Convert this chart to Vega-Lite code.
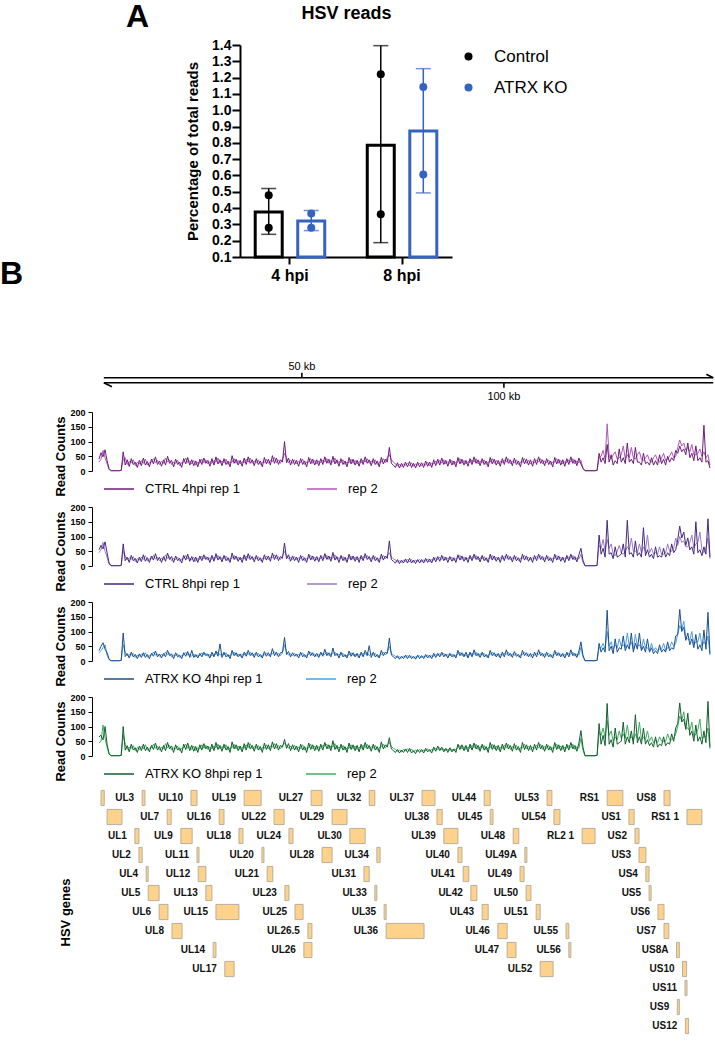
{
"$schema":"https://vega.github.io/schema/vega-lite/v6.json",
"padding":0,
"background":"white",
"config":{"font":"Liberation Sans","view":{"stroke":null},"axis":{"grid":false,"labelOverlap":false,"domainColor":"black","tickColor":"black","labelColor":"black","titleColor":"black","labelFont":"Liberation Sans","titleFont":"Liberation Sans"},"legend":{"labelFont":"Liberation Sans","labelColor":"black"},"title":{"font":"Liberation Sans","color":"black"}},
"datasets":{
"tracks":[
{"kb":0,"a":40,"b":30,"c":55,"d":45,"e":35,"f":28,"g":65,"h":45},
{"kb":0.5,"a":62,"b":40,"c":70,"d":55,"e":50,"f":35,"g":70,"h":50},
{"kb":1,"a":48,"b":70,"c":58,"d":80,"e":62,"f":45,"g":55,"h":105},
{"kb":1.5,"a":72,"b":45,"c":82,"d":50,"e":40,"f":55,"g":100,"h":60},
{"kb":2,"a":35,"b":25,"c":45,"d":30,"e":28,"f":20,"g":40,"h":30},
{"kb":2.5,"a":8,"b":5,"c":10,"d":6,"e":6,"f":5,"g":8,"h":6},
{"kb":3,"a":1,"b":1,"c":1,"d":1,"e":1,"f":1,"g":1,"h":1},
{"kb":3.5,"a":1,"b":1,"c":1,"d":1,"e":1,"f":1,"g":1,"h":1},
{"kb":4,"a":1,"b":1,"c":1,"d":1,"e":1,"f":1,"g":1,"h":1},
{"kb":4.5,"a":1,"b":1,"c":1,"d":1,"e":1,"f":1,"g":1,"h":1},
{"kb":5,"a":1,"b":1,"c":1,"d":1,"e":1,"f":1,"g":1,"h":1},
{"kb":5.5,"a":2,"b":2,"c":2,"d":2,"e":2,"f":2,"g":2,"h":2},
{"kb":6,"a":65,"b":40,"c":75,"d":50,"e":95,"f":55,"g":100,"h":70},
{"kb":6.5,"a":20,"b":45,"c":18,"d":35,"e":15,"f":30,"g":20,"h":40},
{"kb":7,"a":38,"b":22,"c":30,"d":20,"e":25,"f":18,"g":35,"h":22},
{"kb":7.5,"a":15,"b":32,"c":12,"d":28,"e":10,"f":22,"g":14,"h":30},
{"kb":8,"a":42,"b":28,"c":36,"d":22,"e":30,"f":20,"g":40,"h":26},
{"kb":8.5,"a":22,"b":38,"c":18,"d":32,"e":14,"f":26,"g":20,"h":35},
{"kb":9,"a":30,"b":18,"c":26,"d":15,"e":22,"f":12,"g":28,"h":18},
{"kb":9.5,"a":12,"b":30,"c":10,"d":25,"e":8,"f":20,"g":12,"h":28},
{"kb":10,"a":36,"b":24,"c":30,"d":20,"e":24,"f":16,"g":34,"h":22},
{"kb":10.5,"a":18,"b":35,"c":15,"d":30,"e":12,"f":24,"g":18,"h":32},
{"kb":11,"a":44,"b":26,"c":38,"d":22,"e":28,"f":18,"g":40,"h":24},
{"kb":11.5,"a":20,"b":40,"c":16,"d":35,"e":12,"f":28,"g":18,"h":38},
{"kb":12,"a":32,"b":20,"c":28,"d":18,"e":22,"f":14,"g":30,"h":20},
{"kb":12.5,"a":14,"b":28,"c":12,"d":24,"e":8,"f":18,"g":14,"h":26},
{"kb":13,"a":40,"b":30,"c":34,"d":24,"e":26,"f":20,"g":36,"h":28},
{"kb":13.5,"a":24,"b":42,"c":20,"d":36,"e":16,"f":30,"g":22,"h":40},
{"kb":14,"a":48,"b":28,"c":42,"d":24,"e":34,"f":20,"g":44,"h":26},
{"kb":14.5,"a":22,"b":36,"c":18,"d":30,"e":14,"f":24,"g":20,"h":34},
{"kb":15,"a":34,"b":22,"c":30,"d":18,"e":24,"f":16,"g":32,"h":20},
{"kb":15.5,"a":16,"b":32,"c":12,"d":26,"e":10,"f":22,"g":14,"h":30},
{"kb":16,"a":38,"b":26,"c":32,"d":22,"e":26,"f":18,"g":36,"h":24},
{"kb":16.5,"a":20,"b":44,"c":16,"d":38,"e":14,"f":30,"g":18,"h":42},
{"kb":17,"a":50,"b":30,"c":44,"d":26,"e":36,"f":22,"g":46,"h":28},
{"kb":17.5,"a":26,"b":38,"c":22,"d":32,"e":18,"f":26,"g":24,"h":36},
{"kb":18,"a":36,"b":22,"c":32,"d":18,"e":24,"f":14,"g":34,"h":20},
{"kb":18.5,"a":14,"b":30,"c":12,"d":26,"e":8,"f":20,"g":12,"h":28},
{"kb":19,"a":40,"b":26,"c":34,"d":22,"e":28,"f":18,"g":38,"h":24},
{"kb":19.5,"a":22,"b":36,"c":18,"d":30,"e":14,"f":24,"g":20,"h":34},
{"kb":20,"a":30,"b":18,"c":26,"d":16,"e":20,"f":12,"g":28,"h":18},
{"kb":20.5,"a":12,"b":28,"c":10,"d":24,"e":8,"f":18,"g":10,"h":26},
{"kb":21,"a":42,"b":30,"c":36,"d":24,"e":28,"f":20,"g":40,"h":28},
{"kb":21.5,"a":24,"b":44,"c":20,"d":36,"e":16,"f":30,"g":22,"h":40},
{"kb":22,"a":46,"b":28,"c":40,"d":24,"e":32,"f":20,"g":44,"h":26},
{"kb":22.5,"a":20,"b":34,"c":16,"d":28,"e":12,"f":22,"g":18,"h":32},
{"kb":23,"a":38,"b":24,"c":32,"d":20,"e":36,"f":16,"g":36,"h":22},
{"kb":23.5,"a":18,"b":36,"c":14,"d":30,"e":12,"f":24,"g":16,"h":34},
{"kb":24,"a":34,"b":20,"c":30,"d":16,"e":22,"f":14,"g":32,"h":18},
{"kb":24.5,"a":14,"b":30,"c":12,"d":26,"e":10,"f":20,"g":12,"h":28},
{"kb":25,"a":40,"b":26,"c":34,"d":22,"e":26,"f":18,"g":38,"h":24},
{"kb":25.5,"a":22,"b":40,"c":18,"d":34,"e":14,"f":28,"g":20,"h":38},
{"kb":26,"a":44,"b":28,"c":38,"d":24,"e":30,"f":20,"g":42,"h":26},
{"kb":26.5,"a":26,"b":38,"c":22,"d":32,"e":18,"f":26,"g":24,"h":36},
{"kb":27,"a":36,"b":24,"c":30,"d":20,"e":24,"f":16,"g":34,"h":22},
{"kb":27.5,"a":16,"b":32,"c":12,"d":28,"e":10,"f":22,"g":14,"h":30},
{"kb":28,"a":42,"b":26,"c":36,"d":22,"e":30,"f":18,"g":40,"h":24},
{"kb":28.5,"a":20,"b":36,"c":16,"d":30,"e":14,"f":24,"g":18,"h":34},
{"kb":29,"a":48,"b":30,"c":42,"d":26,"e":34,"f":22,"g":46,"h":28},
{"kb":29.5,"a":24,"b":44,"c":20,"d":36,"e":16,"f":30,"g":22,"h":40},
{"kb":30,"a":38,"b":26,"c":32,"d":22,"e":58,"f":20,"g":36,"h":24},
{"kb":30.5,"a":18,"b":34,"c":14,"d":28,"e":12,"f":24,"g":16,"h":32},
{"kb":31,"a":42,"b":28,"c":36,"d":24,"e":30,"f":20,"g":40,"h":26},
{"kb":31.5,"a":22,"b":40,"c":18,"d":34,"e":14,"f":28,"g":20,"h":38},
{"kb":32,"a":34,"b":22,"c":28,"d":18,"e":22,"f":14,"g":32,"h":20},
{"kb":32.5,"a":14,"b":30,"c":12,"d":26,"e":8,"f":20,"g":12,"h":28},
{"kb":33,"a":52,"b":30,"c":44,"d":26,"e":36,"f":22,"g":48,"h":28},
{"kb":33.5,"a":26,"b":42,"c":22,"d":36,"e":18,"f":30,"g":24,"h":40},
{"kb":34,"a":40,"b":26,"c":34,"d":22,"e":28,"f":18,"g":38,"h":24},
{"kb":34.5,"a":20,"b":36,"c":16,"d":30,"e":14,"f":24,"g":18,"h":34},
{"kb":35,"a":36,"b":24,"c":30,"d":20,"e":24,"f":16,"g":34,"h":22},
{"kb":35.5,"a":16,"b":32,"c":12,"d":28,"e":10,"f":22,"g":14,"h":30},
{"kb":36,"a":44,"b":28,"c":38,"d":24,"e":30,"f":20,"g":42,"h":26},
{"kb":36.5,"a":22,"b":40,"c":18,"d":34,"e":16,"f":28,"g":20,"h":38},
{"kb":37,"a":48,"b":30,"c":42,"d":26,"e":36,"f":22,"g":46,"h":28},
{"kb":37.5,"a":26,"b":44,"c":22,"d":36,"e":18,"f":30,"g":24,"h":42},
{"kb":38,"a":38,"b":26,"c":32,"d":22,"e":28,"f":18,"g":36,"h":24},
{"kb":38.5,"a":18,"b":34,"c":14,"d":28,"e":12,"f":24,"g":16,"h":32},
{"kb":39,"a":42,"b":28,"c":36,"d":24,"e":30,"f":20,"g":40,"h":26},
{"kb":39.5,"a":22,"b":38,"c":18,"d":32,"e":14,"f":26,"g":20,"h":36},
{"kb":40,"a":34,"b":22,"c":28,"d":18,"e":22,"f":14,"g":32,"h":20},
{"kb":40.5,"a":14,"b":30,"c":12,"d":26,"e":10,"f":20,"g":12,"h":28},
{"kb":41,"a":46,"b":28,"c":38,"d":24,"e":32,"f":20,"g":44,"h":26},
{"kb":41.5,"a":24,"b":40,"c":20,"d":34,"e":16,"f":28,"g":22,"h":38},
{"kb":42,"a":40,"b":26,"c":34,"d":22,"e":28,"f":18,"g":38,"h":24},
{"kb":42.5,"a":20,"b":36,"c":16,"d":30,"e":14,"f":24,"g":18,"h":34},
{"kb":43,"a":52,"b":32,"c":44,"d":28,"e":42,"f":24,"g":48,"h":30},
{"kb":43.5,"a":26,"b":46,"c":22,"d":38,"e":18,"f":32,"g":24,"h":42},
{"kb":44,"a":44,"b":28,"c":38,"d":24,"e":30,"f":20,"g":42,"h":26},
{"kb":44.5,"a":22,"b":38,"c":18,"d":32,"e":14,"f":26,"g":20,"h":36},
{"kb":45,"a":38,"b":26,"c":32,"d":22,"e":28,"f":18,"g":36,"h":24},
{"kb":45.5,"a":30,"b":40,"c":26,"d":34,"e":30,"f":28,"g":30,"h":36},
{"kb":46,"a":100,"b":60,"c":78,"d":50,"e":80,"f":55,"g":56,"h":42},
{"kb":46.5,"a":28,"b":44,"c":24,"d":36,"e":22,"f":30,"g":26,"h":38},
{"kb":47,"a":44,"b":28,"c":38,"d":24,"e":32,"f":20,"g":42,"h":26},
{"kb":47.5,"a":20,"b":36,"c":16,"d":30,"e":14,"f":24,"g":18,"h":34},
{"kb":48,"a":40,"b":26,"c":34,"d":22,"e":28,"f":18,"g":38,"h":24},
{"kb":48.5,"a":22,"b":38,"c":18,"d":32,"e":16,"f":26,"g":20,"h":36},
{"kb":49,"a":36,"b":24,"c":30,"d":20,"e":24,"f":16,"g":34,"h":22},
{"kb":49.5,"a":16,"b":32,"c":12,"d":28,"e":10,"f":22,"g":14,"h":30},
{"kb":50,"a":42,"b":28,"c":36,"d":24,"e":30,"f":20,"g":40,"h":26},
{"kb":50.5,"a":22,"b":40,"c":18,"d":34,"e":14,"f":28,"g":20,"h":38},
{"kb":51,"a":34,"b":22,"c":28,"d":18,"e":22,"f":14,"g":32,"h":20},
{"kb":51.5,"a":14,"b":30,"c":12,"d":26,"e":10,"f":20,"g":12,"h":28},
{"kb":52,"a":46,"b":30,"c":40,"d":26,"e":34,"f":22,"g":44,"h":28},
{"kb":52.5,"a":24,"b":42,"c":20,"d":36,"e":18,"f":30,"g":22,"h":40},
{"kb":53,"a":40,"b":26,"c":34,"d":22,"e":28,"f":18,"g":38,"h":24},
{"kb":53.5,"a":20,"b":36,"c":16,"d":30,"e":14,"f":24,"g":18,"h":34},
{"kb":54,"a":38,"b":24,"c":32,"d":20,"e":26,"f":16,"g":36,"h":22},
{"kb":54.5,"a":18,"b":34,"c":14,"d":28,"e":12,"f":22,"g":16,"h":32},
{"kb":55,"a":42,"b":28,"c":36,"d":24,"e":30,"f":20,"g":40,"h":26},
{"kb":55.5,"a":22,"b":38,"c":18,"d":32,"e":16,"f":26,"g":20,"h":36},
{"kb":56,"a":48,"b":30,"c":42,"d":26,"e":40,"f":22,"g":46,"h":34},
{"kb":56.5,"a":26,"b":42,"c":22,"d":36,"e":18,"f":30,"g":24,"h":40},
{"kb":57,"a":40,"b":26,"c":34,"d":22,"e":28,"f":18,"g":38,"h":24},
{"kb":57.5,"a":20,"b":36,"c":16,"d":30,"e":14,"f":24,"g":18,"h":34},
{"kb":58,"a":50,"b":30,"c":46,"d":26,"e":44,"f":26,"g":52,"h":30},
{"kb":58.5,"a":24,"b":44,"c":20,"d":38,"e":18,"f":30,"g":22,"h":42},
{"kb":59,"a":38,"b":26,"c":32,"d":22,"e":26,"f":18,"g":36,"h":24},
{"kb":59.5,"a":16,"b":32,"c":12,"d":28,"e":10,"f":22,"g":14,"h":30},
{"kb":60,"a":42,"b":28,"c":36,"d":24,"e":30,"f":20,"g":40,"h":26},
{"kb":60.5,"a":22,"b":38,"c":18,"d":32,"e":14,"f":26,"g":20,"h":36},
{"kb":61,"a":34,"b":22,"c":30,"d":18,"e":22,"f":14,"g":32,"h":20},
{"kb":61.5,"a":14,"b":30,"c":12,"d":26,"e":10,"f":20,"g":12,"h":28},
{"kb":62,"a":46,"b":28,"c":40,"d":24,"e":34,"f":20,"g":44,"h":26},
{"kb":62.5,"a":24,"b":40,"c":20,"d":34,"e":16,"f":28,"g":22,"h":38},
{"kb":63,"a":40,"b":26,"c":34,"d":22,"e":28,"f":18,"g":38,"h":24},
{"kb":63.5,"a":20,"b":36,"c":16,"d":30,"e":14,"f":24,"g":18,"h":34},
{"kb":64,"a":36,"b":24,"c":32,"d":20,"e":26,"f":16,"g":36,"h":22},
{"kb":64.5,"a":16,"b":32,"c":12,"d":28,"e":10,"f":22,"g":14,"h":30},
{"kb":65,"a":42,"b":28,"c":36,"d":24,"e":30,"f":20,"g":40,"h":26},
{"kb":65.5,"a":22,"b":38,"c":18,"d":32,"e":14,"f":26,"g":20,"h":36},
{"kb":66,"a":48,"b":30,"c":42,"d":28,"e":36,"f":22,"g":46,"h":28},
{"kb":66.5,"a":26,"b":42,"c":22,"d":36,"e":18,"f":30,"g":24,"h":40},
{"kb":67,"a":38,"b":26,"c":32,"d":22,"e":52,"f":18,"g":36,"h":24},
{"kb":67.5,"a":18,"b":34,"c":14,"d":28,"e":12,"f":24,"g":16,"h":32},
{"kb":68,"a":42,"b":28,"c":36,"d":24,"e":30,"f":20,"g":40,"h":26},
{"kb":68.5,"a":22,"b":38,"c":18,"d":32,"e":14,"f":26,"g":20,"h":36},
{"kb":69,"a":34,"b":22,"c":28,"d":18,"e":22,"f":14,"g":32,"h":20},
{"kb":69.5,"a":14,"b":30,"c":12,"d":26,"e":10,"f":20,"g":12,"h":28},
{"kb":70,"a":46,"b":30,"c":40,"d":26,"e":36,"f":22,"g":48,"h":32},
{"kb":70.5,"a":24,"b":42,"c":20,"d":36,"e":18,"f":30,"g":24,"h":40},
{"kb":71,"a":40,"b":28,"c":34,"d":24,"e":30,"f":20,"g":38,"h":26},
{"kb":71.5,"a":30,"b":46,"c":26,"d":36,"e":26,"f":30,"g":30,"h":40},
{"kb":72,"a":80,"b":55,"c":85,"d":45,"e":78,"f":50,"g":62,"h":46},
{"kb":72.5,"a":26,"b":38,"c":22,"d":30,"e":20,"f":26,"g":24,"h":32},
{"kb":73,"a":20,"b":30,"c":16,"d":24,"e":14,"f":20,"g":18,"h":26},
{"kb":73.5,"a":12,"b":24,"c":10,"d":20,"e":8,"f":16,"g":12,"h":22},
{"kb":74,"a":28,"b":18,"c":22,"d":14,"e":18,"f":12,"g":22,"h":16},
{"kb":74.5,"a":10,"b":22,"c":8,"d":18,"e":6,"f":14,"g":10,"h":20},
{"kb":75,"a":26,"b":16,"c":20,"d":12,"e":16,"f":10,"g":20,"h":14},
{"kb":75.5,"a":12,"b":24,"c":10,"d":20,"e":8,"f":16,"g":12,"h":22},
{"kb":76,"a":30,"b":20,"c":24,"d":16,"e":20,"f":14,"g":24,"h":18},
{"kb":76.5,"a":14,"b":26,"c":10,"d":22,"e":8,"f":18,"g":12,"h":24},
{"kb":77,"a":32,"b":18,"c":26,"d":14,"e":20,"f":12,"g":26,"h":16},
{"kb":77.5,"a":12,"b":28,"c":10,"d":22,"e":8,"f":16,"g":10,"h":24},
{"kb":78,"a":26,"b":16,"c":20,"d":12,"e":16,"f":10,"g":18,"h":14},
{"kb":78.5,"a":10,"b":24,"c":8,"d":20,"e":6,"f":14,"g":8,"h":20},
{"kb":79,"a":30,"b":20,"c":22,"d":16,"e":20,"f":14,"g":22,"h":16},
{"kb":79.5,"a":14,"b":26,"c":10,"d":22,"e":8,"f":18,"g":12,"h":22},
{"kb":80,"a":28,"b":18,"c":22,"d":14,"e":18,"f":12,"g":22,"h":16},
{"kb":80.5,"a":12,"b":24,"c":10,"d":20,"e":8,"f":16,"g":10,"h":20},
{"kb":81,"a":34,"b":20,"c":26,"d":16,"e":22,"f":14,"g":26,"h":18},
{"kb":81.5,"a":16,"b":30,"c":12,"d":24,"e":10,"f":20,"g":14,"h":24},
{"kb":82,"a":30,"b":18,"c":24,"d":14,"e":20,"f":12,"g":22,"h":16},
{"kb":82.5,"a":12,"b":26,"c":10,"d":22,"e":8,"f":18,"g":10,"h":22},
{"kb":83,"a":38,"b":24,"c":30,"d":20,"e":26,"f":16,"g":30,"h":20},
{"kb":83.5,"a":18,"b":34,"c":14,"d":28,"e":12,"f":22,"g":16,"h":26},
{"kb":84,"a":40,"b":26,"c":32,"d":22,"e":26,"f":18,"g":34,"h":22},
{"kb":84.5,"a":20,"b":36,"c":16,"d":30,"e":14,"f":24,"g":18,"h":28},
{"kb":85,"a":44,"b":26,"c":36,"d":22,"e":30,"f":20,"g":30,"h":20},
{"kb":85.5,"a":22,"b":38,"c":18,"d":32,"e":14,"f":26,"g":14,"h":24},
{"kb":86,"a":36,"b":24,"c":30,"d":20,"e":24,"f":16,"g":26,"h":18},
{"kb":86.5,"a":16,"b":32,"c":12,"d":28,"e":10,"f":22,"g":12,"h":22},
{"kb":87,"a":40,"b":26,"c":32,"d":22,"e":26,"f":18,"g":28,"h":20},
{"kb":87.5,"a":20,"b":36,"c":16,"d":30,"e":14,"f":24,"g":14,"h":22},
{"kb":88,"a":34,"b":22,"c":28,"d":18,"e":22,"f":14,"g":24,"h":18},
{"kb":88.5,"a":14,"b":30,"c":12,"d":26,"e":10,"f":20,"g":12,"h":22},
{"kb":89,"a":46,"b":30,"c":38,"d":26,"e":36,"f":22,"g":40,"h":28},
{"kb":89.5,"a":24,"b":42,"c":20,"d":36,"e":18,"f":30,"g":22,"h":36},
{"kb":90,"a":40,"b":26,"c":34,"d":22,"e":28,"f":18,"g":38,"h":24},
{"kb":90.5,"a":20,"b":36,"c":16,"d":30,"e":14,"f":24,"g":18,"h":32},
{"kb":91,"a":36,"b":24,"c":30,"d":20,"e":30,"f":16,"g":36,"h":22},
{"kb":91.5,"a":16,"b":32,"c":12,"d":28,"e":10,"f":22,"g":14,"h":30},
{"kb":92,"a":42,"b":28,"c":36,"d":24,"e":30,"f":20,"g":40,"h":26},
{"kb":92.5,"a":22,"b":38,"c":18,"d":32,"e":14,"f":26,"g":20,"h":36},
{"kb":93,"a":48,"b":30,"c":40,"d":26,"e":38,"f":22,"g":44,"h":28},
{"kb":93.5,"a":26,"b":42,"c":22,"d":36,"e":18,"f":30,"g":24,"h":40},
{"kb":94,"a":38,"b":24,"c":32,"d":20,"e":26,"f":16,"g":36,"h":22},
{"kb":94.5,"a":18,"b":34,"c":14,"d":28,"e":12,"f":24,"g":16,"h":32},
{"kb":95,"a":42,"b":28,"c":36,"d":24,"e":30,"f":20,"g":40,"h":26},
{"kb":95.5,"a":22,"b":38,"c":18,"d":32,"e":14,"f":26,"g":20,"h":36},
{"kb":96,"a":34,"b":22,"c":28,"d":18,"e":22,"f":14,"g":32,"h":20},
{"kb":96.5,"a":14,"b":30,"c":12,"d":26,"e":10,"f":20,"g":12,"h":28},
{"kb":97,"a":46,"b":30,"c":40,"d":26,"e":36,"f":22,"g":46,"h":28},
{"kb":97.5,"a":24,"b":42,"c":20,"d":36,"e":18,"f":30,"g":22,"h":40},
{"kb":98,"a":40,"b":26,"c":34,"d":22,"e":28,"f":18,"g":38,"h":24},
{"kb":98.5,"a":20,"b":36,"c":16,"d":30,"e":14,"f":24,"g":18,"h":34},
{"kb":99,"a":36,"b":24,"c":30,"d":20,"e":26,"f":16,"g":36,"h":22},
{"kb":99.5,"a":16,"b":32,"c":12,"d":28,"e":10,"f":22,"g":14,"h":30},
{"kb":100,"a":42,"b":28,"c":36,"d":24,"e":30,"f":20,"g":40,"h":26},
{"kb":100.5,"a":22,"b":38,"c":18,"d":32,"e":14,"f":26,"g":20,"h":36},
{"kb":101,"a":48,"b":30,"c":40,"d":26,"e":38,"f":22,"g":44,"h":28},
{"kb":101.5,"a":26,"b":42,"c":22,"d":36,"e":18,"f":30,"g":24,"h":40},
{"kb":102,"a":38,"b":24,"c":32,"d":20,"e":26,"f":16,"g":36,"h":22},
{"kb":102.5,"a":18,"b":34,"c":14,"d":28,"e":12,"f":24,"g":16,"h":32},
{"kb":103,"a":44,"b":28,"c":36,"d":24,"e":32,"f":20,"g":42,"h":26},
{"kb":103.5,"a":22,"b":38,"c":18,"d":32,"e":16,"f":26,"g":20,"h":36},
{"kb":104,"a":34,"b":22,"c":28,"d":18,"e":22,"f":14,"g":32,"h":20},
{"kb":104.5,"a":14,"b":30,"c":12,"d":26,"e":10,"f":20,"g":12,"h":28},
{"kb":105,"a":46,"b":30,"c":40,"d":26,"e":36,"f":22,"g":46,"h":28},
{"kb":105.5,"a":24,"b":42,"c":20,"d":36,"e":18,"f":30,"g":22,"h":40},
{"kb":106,"a":40,"b":26,"c":34,"d":22,"e":28,"f":18,"g":38,"h":24},
{"kb":106.5,"a":20,"b":36,"c":16,"d":30,"e":14,"f":24,"g":18,"h":34},
{"kb":107,"a":38,"b":24,"c":30,"d":20,"e":26,"f":16,"g":36,"h":22},
{"kb":107.5,"a":16,"b":32,"c":12,"d":28,"e":10,"f":22,"g":14,"h":30},
{"kb":108,"a":42,"b":28,"c":36,"d":24,"e":30,"f":20,"g":40,"h":26},
{"kb":108.5,"a":22,"b":38,"c":18,"d":32,"e":14,"f":26,"g":20,"h":36},
{"kb":109,"a":48,"b":30,"c":40,"d":26,"e":38,"f":22,"g":46,"h":28},
{"kb":109.5,"a":26,"b":42,"c":22,"d":36,"e":18,"f":30,"g":24,"h":40},
{"kb":110,"a":38,"b":24,"c":32,"d":20,"e":26,"f":16,"g":36,"h":22},
{"kb":110.5,"a":18,"b":34,"c":14,"d":28,"e":12,"f":24,"g":16,"h":32},
{"kb":111,"a":42,"b":28,"c":36,"d":24,"e":30,"f":20,"g":40,"h":26},
{"kb":111.5,"a":22,"b":38,"c":18,"d":32,"e":14,"f":26,"g":20,"h":36},
{"kb":112,"a":34,"b":22,"c":28,"d":18,"e":22,"f":14,"g":32,"h":20},
{"kb":112.5,"a":14,"b":30,"c":12,"d":26,"e":10,"f":20,"g":12,"h":28},
{"kb":113,"a":46,"b":30,"c":40,"d":26,"e":36,"f":22,"g":46,"h":28},
{"kb":113.5,"a":24,"b":42,"c":20,"d":36,"e":18,"f":30,"g":22,"h":40},
{"kb":114,"a":40,"b":26,"c":34,"d":22,"e":28,"f":18,"g":38,"h":24},
{"kb":114.5,"a":20,"b":36,"c":16,"d":30,"e":14,"f":24,"g":18,"h":34},
{"kb":115,"a":38,"b":24,"c":30,"d":20,"e":26,"f":16,"g":36,"h":22},
{"kb":115.5,"a":16,"b":32,"c":12,"d":28,"e":10,"f":22,"g":14,"h":30},
{"kb":116,"a":42,"b":28,"c":36,"d":24,"e":30,"f":20,"g":40,"h":26},
{"kb":116.5,"a":22,"b":38,"c":18,"d":32,"e":14,"f":26,"g":20,"h":36},
{"kb":117,"a":48,"b":30,"c":40,"d":26,"e":38,"f":22,"g":46,"h":28},
{"kb":117.5,"a":26,"b":42,"c":22,"d":36,"e":18,"f":30,"g":24,"h":40},
{"kb":118,"a":38,"b":24,"c":32,"d":20,"e":26,"f":16,"g":36,"h":22},
{"kb":118.5,"a":18,"b":34,"c":14,"d":28,"e":12,"f":24,"g":16,"h":32},
{"kb":119,"a":44,"b":28,"c":38,"d":24,"e":34,"f":20,"g":44,"h":26},
{"kb":119.5,"a":24,"b":36,"c":60,"d":40,"e":65,"f":46,"g":86,"h":60},
{"kb":120,"a":10,"b":8,"c":20,"d":12,"e":20,"f":14,"g":30,"h":20},
{"kb":120.5,"a":1,"b":1,"c":1,"d":1,"e":1,"f":1,"g":1,"h":1},
{"kb":121,"a":1,"b":1,"c":1,"d":1,"e":1,"f":1,"g":1,"h":1},
{"kb":121.5,"a":1,"b":1,"c":1,"d":1,"e":1,"f":1,"g":1,"h":1},
{"kb":122,"a":1,"b":1,"c":1,"d":1,"e":1,"f":1,"g":1,"h":1},
{"kb":122.5,"a":1,"b":1,"c":1,"d":1,"e":1,"f":1,"g":1,"h":1},
{"kb":123,"a":1,"b":1,"c":1,"d":1,"e":1,"f":1,"g":1,"h":1},
{"kb":123.5,"a":2,"b":2,"c":2,"d":2,"e":2,"f":2,"g":2,"h":2},
{"kb":124,"a":60,"b":45,"c":105,"d":70,"e":60,"f":45,"g":110,"h":80},
{"kb":124.5,"a":30,"b":50,"c":40,"d":60,"e":30,"f":45,"g":40,"h":70},
{"kb":125,"a":45,"b":70,"c":60,"d":90,"e":45,"f":60,"g":70,"h":95},
{"kb":125.5,"a":25,"b":40,"c":30,"d":50,"e":30,"f":40,"g":35,"h":60},
{"kb":126,"a":90,"b":160,"c":155,"d":90,"e":172,"f":100,"g":178,"h":120},
{"kb":126.5,"a":30,"b":50,"c":40,"d":60,"e":35,"f":50,"g":40,"h":70},
{"kb":127,"a":55,"b":40,"c":45,"d":75,"e":50,"f":65,"g":55,"h":85},
{"kb":127.5,"a":20,"b":55,"c":25,"d":40,"e":25,"f":40,"g":30,"h":50},
{"kb":128,"a":35,"b":65,"c":65,"d":35,"e":75,"f":55,"g":95,"h":65},
{"kb":128.5,"a":25,"b":40,"c":30,"d":50,"e":30,"f":45,"g":40,"h":55},
{"kb":129,"a":75,"b":45,"c":35,"d":70,"e":45,"f":75,"g":45,"h":85},
{"kb":129.5,"a":30,"b":55,"c":40,"d":45,"e":40,"f":50,"g":50,"h":60},
{"kb":130,"a":45,"b":85,"c":75,"d":40,"e":85,"f":55,"g":115,"h":75},
{"kb":130.5,"a":25,"b":40,"c":30,"d":50,"e":35,"f":45,"g":40,"h":60},
{"kb":131,"a":95,"b":55,"c":155,"d":65,"e":55,"f":95,"g":65,"h":105},
{"kb":131.5,"a":30,"b":45,"c":40,"d":55,"e":40,"f":50,"g":45,"h":60},
{"kb":132,"a":40,"b":80,"c":45,"d":95,"e":95,"f":65,"g":85,"h":65},
{"kb":132.5,"a":25,"b":45,"c":30,"d":50,"e":30,"f":40,"g":40,"h":55},
{"kb":133,"a":80,"b":40,"c":85,"d":50,"e":60,"f":90,"g":140,"h":75},
{"kb":133.5,"a":30,"b":55,"c":35,"d":45,"e":40,"f":50,"g":45,"h":60},
{"kb":134,"a":30,"b":65,"c":45,"d":75,"e":95,"f":55,"g":65,"h":115},
{"kb":134.5,"a":20,"b":40,"c":30,"d":45,"e":35,"f":40,"g":40,"h":55},
{"kb":135,"a":60,"b":35,"c":130,"d":65,"e":50,"f":75,"g":95,"h":65},
{"kb":135.5,"a":25,"b":45,"c":35,"d":50,"e":30,"f":45,"g":40,"h":55},
{"kb":136,"a":30,"b":55,"c":55,"d":105,"e":75,"f":45,"g":55,"h":85},
{"kb":136.5,"a":20,"b":35,"c":30,"d":45,"e":30,"f":35,"g":35,"h":50},
{"kb":137,"a":45,"b":30,"c":40,"d":60,"e":45,"f":60,"g":45,"h":65},
{"kb":137.5,"a":20,"b":45,"c":25,"d":40,"e":25,"f":35,"g":30,"h":45},
{"kb":138,"a":35,"b":55,"c":65,"d":45,"e":35,"f":45,"g":65,"h":55},
{"kb":138.5,"a":20,"b":35,"c":30,"d":40,"e":25,"f":35,"g":30,"h":45},
{"kb":139,"a":55,"b":30,"c":35,"d":65,"e":55,"f":40,"g":40,"h":65},
{"kb":139.5,"a":25,"b":45,"c":30,"d":40,"e":30,"f":40,"g":35,"h":50},
{"kb":140,"a":40,"b":60,"c":60,"d":40,"e":40,"f":60,"g":65,"h":50},
{"kb":140.5,"a":20,"b":35,"c":30,"d":45,"e":30,"f":35,"g":35,"h":50},
{"kb":141,"a":50,"b":40,"c":45,"d":75,"e":65,"f":45,"g":45,"h":75},
{"kb":141.5,"a":30,"b":50,"c":35,"d":50,"e":35,"f":45,"g":40,"h":55},
{"kb":142,"a":45,"b":65,"c":75,"d":50,"e":45,"f":65,"g":75,"h":55},
{"kb":142.5,"a":35,"b":45,"c":45,"d":60,"e":40,"f":50,"g":50,"h":60},
{"kb":143,"a":70,"b":50,"c":55,"d":95,"e":85,"f":60,"g":95,"h":75},
{"kb":143.5,"a":60,"b":80,"c":90,"d":70,"e":90,"f":90,"g":110,"h":100},
{"kb":144,"a":85,"b":105,"c":135,"d":100,"e":175,"f":120,"g":180,"h":135},
{"kb":144.5,"a":65,"b":85,"c":95,"d":80,"e":100,"f":105,"g":115,"h":120},
{"kb":145,"a":75,"b":95,"c":115,"d":85,"e":115,"f":135,"g":125,"h":150},
{"kb":145.5,"a":55,"b":70,"c":70,"d":65,"e":70,"f":80,"g":90,"h":95},
{"kb":146,"a":95,"b":80,"c":95,"d":65,"e":95,"f":75,"g":145,"h":95},
{"kb":146.5,"a":45,"b":65,"c":55,"d":80,"e":55,"f":70,"g":70,"h":85},
{"kb":147,"a":60,"b":90,"c":65,"d":105,"e":75,"f":100,"g":85,"h":115},
{"kb":147.5,"a":35,"b":55,"c":40,"d":60,"e":45,"f":55,"g":50,"h":65},
{"kb":148,"a":85,"b":55,"c":150,"d":75,"e":90,"f":65,"g":105,"h":75},
{"kb":148.5,"a":35,"b":60,"c":45,"d":80,"e":40,"f":65,"g":50,"h":90},
{"kb":149,"a":45,"b":75,"c":55,"d":115,"e":55,"f":95,"g":65,"h":125},
{"kb":149.5,"a":30,"b":50,"c":35,"d":55,"e":35,"f":50,"g":40,"h":60},
{"kb":150,"a":155,"b":65,"c":65,"d":45,"e":105,"f":65,"g":85,"h":65},
{"kb":150.5,"a":30,"b":45,"c":40,"d":60,"e":40,"f":55,"g":45,"h":65},
{"kb":151,"a":35,"b":55,"c":160,"d":95,"e":165,"f":85,"g":185,"h":95},
{"kb":151.5,"a":10,"b":20,"c":30,"d":25,"e":25,"f":20,"g":30,"h":25}
],
"genes":[
{"g":"","s":0.5,"e":1.3,"r":0},{"g":"UL3","s":10.7,"e":11.4,"r":0},{"g":"UL10","s":22.8,"e":24.3,"r":0},{"g":"UL19","s":36.0,"e":40.2,"r":0},{"g":"UL27","s":52.6,"e":55.3,"r":0},{"g":"UL32","s":67.0,"e":68.4,"r":0},{"g":"UL37","s":80.1,"e":83.3,"r":0},{"g":"UL44","s":95.5,"e":97.0,"r":0},{"g":"UL53","s":111.1,"e":112.3,"r":0},{"g":"RS1","s":126.0,"e":129.9,"r":0},{"g":"US8","s":140.1,"e":141.6,"r":0},
{"g":"","s":2.0,"e":5.7,"r":1},{"g":"UL7","s":16.9,"e":17.9,"r":1},{"g":"UL16","s":29.8,"e":31.0,"r":1},{"g":"UL22","s":43.4,"e":45.9,"r":1},{"g":"UL29","s":57.8,"e":61.5,"r":1},{"g":"UL38","s":83.8,"e":85.1,"r":1},{"g":"UL45","s":97.0,"e":97.7,"r":1},{"g":"UL54","s":112.8,"e":114.3,"r":1},{"g":"US1","s":131.4,"e":132.7,"r":1},{"g":"RS1 1","s":145.8,"e":149.5,"r":1},
{"g":"UL1","s":8.9,"e":9.9,"r":2},{"g":"UL9","s":20.3,"e":23.1,"r":2},{"g":"UL18","s":34.7,"e":35.7,"r":2},{"g":"UL24","s":47.1,"e":48.1,"r":2},{"g":"UL30","s":62.2,"e":66.0,"r":2},{"g":"UL39","s":85.5,"e":89.0,"r":2},{"g":"UL48","s":102.7,"e":104.1,"r":2},{"g":"RL2 1","s":119.8,"e":123.0,"r":2},{"g":"US2","s":132.9,"e":133.9,"r":2},
{"g":"UL2","s":9.9,"e":10.7,"r":3},{"g":"UL11","s":24.3,"e":24.8,"r":3},{"g":"UL20","s":40.4,"e":40.9,"r":3},{"g":"UL28","s":55.3,"e":57.8,"r":3},{"g":"UL34","s":68.9,"e":69.7,"r":3},{"g":"UL40","s":89.0,"e":90.0,"r":3},{"g":"UL49A","s":105.6,"e":106.1,"r":3},{"g":"US3","s":133.9,"e":135.6,"r":3},
{"g":"UL4","s":11.7,"e":12.2,"r":4},{"g":"UL12","s":24.6,"e":26.5,"r":4},{"g":"UL21","s":41.7,"e":43.1,"r":4},{"g":"UL31","s":65.7,"e":67.0,"r":4},{"g":"UL41","s":90.3,"e":91.7,"r":4},{"g":"UL49","s":104.4,"e":105.4,"r":4},{"g":"US4","s":135.6,"e":136.4,"r":4},
{"g":"UL5","s":12.2,"e":14.9,"r":5},{"g":"UL13","s":26.5,"e":28.0,"r":5},{"g":"UL23","s":46.1,"e":47.1,"r":5},{"g":"UL33","s":68.4,"e":68.9,"r":5},{"g":"UL42","s":92.2,"e":93.7,"r":5},{"g":"UL50","s":105.9,"e":107.1,"r":5},{"g":"US5","s":136.4,"e":136.9,"r":5},
{"g":"UL6","s":14.9,"e":17.1,"r":6},{"g":"UL15","s":29.0,"e":34.7,"r":6},{"g":"UL25","s":48.6,"e":50.6,"r":6},{"g":"UL35","s":70.7,"e":71.2,"r":6},{"g":"UL43","s":95.0,"e":96.5,"r":6},{"g":"UL51","s":108.4,"e":109.4,"r":6},{"g":"US6","s":138.6,"e":140.1,"r":6},
{"g":"UL8","s":18.1,"e":20.6,"r":7},{"g":"UL26.5","s":51.8,"e":52.8,"r":7},{"g":"UL36","s":71.2,"e":80.6,"r":7},{"g":"UL46","s":98.9,"e":101.2,"r":7},{"g":"UL55","s":115.8,"e":116.5,"r":7},{"g":"US7","s":140.1,"e":141.3,"r":7},
{"g":"UL14","s":28.3,"e":29.0,"r":8},{"g":"UL26","s":50.8,"e":52.8,"r":8},{"g":"UL47","s":101.2,"e":103.4,"r":8},{"g":"UL56","s":116.5,"e":117.0,"r":8},{"g":"US8A","s":143.2,"e":143.9,"r":8},
{"g":"UL17","s":31.2,"e":33.5,"r":9},{"g":"UL52","s":109.4,"e":112.6,"r":9},{"g":"US10","s":144.7,"e":145.7,"r":9},
{"g":"US11","s":145.3,"e":145.8,"r":10},
{"g":"US9","s":143.4,"e":143.9,"r":11},
{"g":"US12","s":145.4,"e":146.2,"r":12}
]
},
"bounds":"flush",
"spacing":36,
"resolve":{"scale":{"color":"independent"},"legend":{"color":"independent"}},
"vconcat":[
{
"width":353,"height":212,
"title":{"text":"A","anchor":"start","frame":"group","fontSize":32,"fontWeight":"bold","dx":27,"offset":-29.5},
"data":{"values":[
{"t":"4 hpi","g":"Control","mean":0.376,"lo":0.239,"hi":0.52},
{"t":"4 hpi","g":"ATRX KO","mean":0.321,"lo":0.262,"hi":0.385},
{"t":"8 hpi","g":"Control","mean":0.786,"lo":0.188,"hi":1.396},
{"t":"8 hpi","g":"ATRX KO","mean":0.872,"lo":0.493,"hi":1.255}
]},
"resolve":{"axis":{"x":"independent"}},
"layer":[
{"mark":{"type":"bar","fill":"white","strokeWidth":3},"encoding":{
"x":{"field":"t","type":"nominal","scale":{"range":[141,353],"paddingInner":0.2,"paddingOuter":0.046},"axis":{"title":null,"labelAngle":0,"labelFontSize":16,"labelFontWeight":"bold","tickSize":7,"tickWidth":2,"domainWidth":2,"labelPadding":3}},
"xOffset":{"field":"g","type":"nominal","scale":{"domain":["Control","ATRX KO"],"paddingInner":0.365,"paddingOuter":0.2365}},
"y":{"field":"mean","type":"quantitative","scale":{"domain":[0.1,1.4],"zero":false,"nice":false},"axis":{"values":[0.1,0.2,0.3,0.4,0.5,0.6,0.7,0.8,0.9,1.0,1.1,1.2,1.3,1.4],"tickCount":14,"format":".1f","labelOverlap":false,"offset":-141,"labelFontSize":14,"labelFontWeight":"bold","tickSize":8,"tickWidth":2,"domainWidth":2,"labelPadding":1,"title":"Percentage of total reads","titleFontSize":15,"titleFontWeight":"bold","titlePadding":11}},
"y2":{"datum":0.1},
"stroke":{"condition":{"test":"datum.g==='Control'","value":"#000000"},"value":"#3564c0"}}},
{"mark":{"type":"rule","strokeWidth":1.5},"encoding":{
"x":{"field":"t","type":"nominal","axis":null},"xOffset":{"field":"g","type":"nominal"},
"y":{"field":"lo","type":"quantitative"},"y2":{"field":"hi"},
"stroke":{"condition":{"test":"datum.g==='Control'","value":"#000000"},"value":"#3564c0"}}},
{"mark":{"type":"tick","thickness":1.5,"size":15},"encoding":{
"x":{"field":"t","type":"nominal","axis":null},"xOffset":{"field":"g","type":"nominal"},
"y":{"field":"lo","type":"quantitative"},"fill":{"condition":{"test":"datum.g==='Control'","value":"#000000"},"value":"#3564c0"}}},
{"mark":{"type":"tick","thickness":1.5,"size":15},"encoding":{
"x":{"field":"t","type":"nominal","axis":null},"xOffset":{"field":"g","type":"nominal"},
"y":{"field":"hi","type":"quantitative"},"fill":{"condition":{"test":"datum.g==='Control'","value":"#000000"},"value":"#3564c0"}}},
{"data":{"values":[
{"t":"4 hpi","g":"Control","v":0.479},{"t":"4 hpi","g":"Control","v":0.28},
{"t":"4 hpi","g":"ATRX KO","v":0.366},{"t":"4 hpi","g":"ATRX KO","v":0.28},
{"t":"8 hpi","g":"Control","v":1.22},{"t":"8 hpi","g":"Control","v":0.362},
{"t":"8 hpi","g":"ATRX KO","v":1.142},{"t":"8 hpi","g":"ATRX KO","v":0.606}
]},"mark":{"type":"point","filled":true,"opacity":1,"size":64},"encoding":{
"x":{"field":"t","type":"nominal","axis":{"orient":"top","title":"HSV reads","labels":false,"ticks":false,"domain":false,"titleFontSize":18,"titleFontWeight":"bold","titlePadding":23}},
"xOffset":{"field":"g","type":"nominal"},
"y":{"field":"v","type":"quantitative"},
"color":{"field":"g","type":"nominal","scale":{"domain":["Control","ATRX KO"],"range":["#000000","#3564c0"]},"legend":{"title":null,"orient":"right","offset":5,"padding":3,"labelFontSize":17,"symbolSize":64,"symbolType":"circle","labelOffset":17,"rowPadding":13}}}}
]
},
{
"width":613,"height":83,
"title":{"text":"B","anchor":"start","frame":"group","fontSize":32,"fontWeight":"bold","dx":-99,"offset":2.5},
"data":{"values":[
{"k":"l","x":1.2,"x2":152.3,"y":84.7,"y2":84.7},
{"k":"l","x":1.2,"x2":152.3,"y":89.7,"y2":89.7},
{"k":"l","x":150.6,"x2":152.3,"y":81.2,"y2":84.7},
{"k":"l","x":1.2,"x2":3.2,"y":89.7,"y2":93.7},
{"k":"l","x":50.3,"x2":50.3,"y":79.7,"y2":84.7},
{"k":"l","x":100.4,"x2":100.4,"y":89.7,"y2":94.7},
{"k":"t","x":50.3,"y":74,"label":"50 kb"},
{"k":"t","x":100.4,"y":104,"label":"100 kb"}
]},
"encoding":{"x":{"field":"x","type":"quantitative","scale":{"domain":[0,152],"nice":false},"axis":null},"y":{"field":"y","type":"quantitative","scale":{"domain":[0,83],"reverse":true,"nice":false,"zero":false},"axis":null}},
"layer":[
{"transform":[{"filter":"datum.k=='l'"}],"mark":{"type":"rule","strokeWidth":1.6,"color":"black"},"encoding":{"x2":{"field":"x2"},"y2":{"field":"y2"}}},
{"transform":[{"filter":"datum.k=='t'"}],"mark":{"type":"text","fontSize":11,"baseline":"middle","align":"center","color":"black"},"encoding":{"text":{"field":"label"}}}
]
},
{"width":613,"height":59,"data":{"name":"tracks"},"transform":[{"fold":["b","a"],"as":["rep","count"]}],"mark":{"type":"line","strokeWidth":1},
"encoding":{"x":{"field":"kb","type":"quantitative","scale":{"domain":[0,152],"nice":false},"axis":null},
"y":{"field":"count","type":"quantitative","scale":{"domain":[0,200],"nice":false},"axis":{"values":[0,50,100,150,200],"tickCount":5,"offset":7,"tickSize":4,"labelFontSize":9,"labelFontWeight":"bold","labelPadding":3,"title":"Read Counts","titleFontSize":13,"titleFontWeight":"bold","titlePadding":2,"titleY":44}},
"color":{"field":"rep","type":"nominal","scale":{"domain":["a","b"],"range":["#6c1d7a","#b058ba"]},"legend":{"orient":"bottom","direction":"horizontal","title":null,"labelExpr":"datum.label=='a'?'CTRL 4hpi rep 1':'rep 2'","labelFontSize":13,"symbolType":"stroke","symbolSize":900,"symbolStrokeWidth":1.5,"labelOffset":10,"columnPadding":61,"offset":0,"padding":0,"symbolOffset":4}}}},
{"width":613,"height":59,"data":{"name":"tracks"},"transform":[{"fold":["d","c"],"as":["rep","count"]}],"mark":{"type":"line","strokeWidth":1},
"encoding":{"x":{"field":"kb","type":"quantitative","scale":{"domain":[0,152],"nice":false},"axis":null},
"y":{"field":"count","type":"quantitative","scale":{"domain":[0,200],"nice":false},"axis":{"values":[0,50,100,150,200],"tickCount":5,"offset":7,"tickSize":4,"labelFontSize":9,"labelFontWeight":"bold","labelPadding":3,"title":"Read Counts","titleFontSize":13,"titleFontWeight":"bold","titlePadding":2,"titleY":44}},
"color":{"field":"rep","type":"nominal","scale":{"domain":["c","d"],"range":["#452a80","#9b7cc4"]},"legend":{"orient":"bottom","direction":"horizontal","title":null,"labelExpr":"datum.label=='c'?'CTRL 8hpi rep 1':'rep 2'","labelFontSize":13,"symbolType":"stroke","symbolSize":900,"symbolStrokeWidth":1.5,"labelOffset":10,"columnPadding":61,"offset":0,"padding":0,"symbolOffset":4}}}},
{"width":613,"height":59,"data":{"name":"tracks"},"transform":[{"fold":["f","e"],"as":["rep","count"]}],"mark":{"type":"line","strokeWidth":1},
"encoding":{"x":{"field":"kb","type":"quantitative","scale":{"domain":[0,152],"nice":false},"axis":null},
"y":{"field":"count","type":"quantitative","scale":{"domain":[0,200],"nice":false},"axis":{"values":[0,50,100,150,200],"tickCount":5,"offset":7,"tickSize":4,"labelFontSize":9,"labelFontWeight":"bold","labelPadding":3,"title":"Read Counts","titleFontSize":13,"titleFontWeight":"bold","titlePadding":2,"titleY":44}},
"color":{"field":"rep","type":"nominal","scale":{"domain":["e","f"],"range":["#1d4f8a","#4aa0e6"]},"legend":{"orient":"bottom","direction":"horizontal","title":null,"labelExpr":"datum.label=='e'?'ATRX KO 4hpi rep 1':'rep 2'","labelFontSize":13,"symbolType":"stroke","symbolSize":900,"symbolStrokeWidth":1.5,"labelOffset":10,"columnPadding":38,"offset":0,"padding":0,"symbolOffset":4}}}},
{"width":613,"height":59,"data":{"name":"tracks"},"transform":[{"fold":["h","g"],"as":["rep","count"]}],"mark":{"type":"line","strokeWidth":1},
"encoding":{"x":{"field":"kb","type":"quantitative","scale":{"domain":[0,152],"nice":false},"axis":null},
"y":{"field":"count","type":"quantitative","scale":{"domain":[0,200],"nice":false},"axis":{"values":[0,50,100,150,200],"tickCount":5,"offset":7,"tickSize":4,"labelFontSize":9,"labelFontWeight":"bold","labelPadding":3,"title":"Read Counts","titleFontSize":13,"titleFontWeight":"bold","titlePadding":2,"titleY":44}},
"color":{"field":"rep","type":"nominal","scale":{"domain":["g","h"],"range":["#135e2e","#3fae5e"]},"legend":{"orient":"bottom","direction":"horizontal","title":null,"labelExpr":"datum.label=='g'?'ATRX KO 8hpi rep 1':'rep 2'","labelFontSize":13,"symbolType":"stroke","symbolSize":900,"symbolStrokeWidth":1.5,"labelOffset":10,"columnPadding":38,"offset":0,"padding":0,"symbolOffset":4}}}},
{
"width":613,"height":244,
"data":{"name":"genes"},
"encoding":{
"x":{"field":"s","type":"quantitative","scale":{"domain":[0,152],"nice":false},"axis":null},
"y":{"field":"r","type":"ordinal","scale":{"domain":[0,1,2,3,4,5,6,7,8,9,10,11,12],"range":[-3.5,243.5],"paddingInner":0.2,"paddingOuter":0.1},"axis":{"title":"HSV genes","labels":false,"ticks":false,"domain":false,"titleFontSize":13,"titleFontWeight":"bold","titlePadding":27}}
},
"layer":[
{"mark":{"type":"bar","fill":"#fed28a","stroke":"#b7b09e","strokeWidth":1},"encoding":{"x2":{"field":"e"}}},
{"mark":{"type":"text","align":"right","dx":-8,"fontSize":10,"fontWeight":"bold","color":"#111111","baseline":"middle"},"encoding":{"text":{"field":"g"}}}
]
}
]
}
